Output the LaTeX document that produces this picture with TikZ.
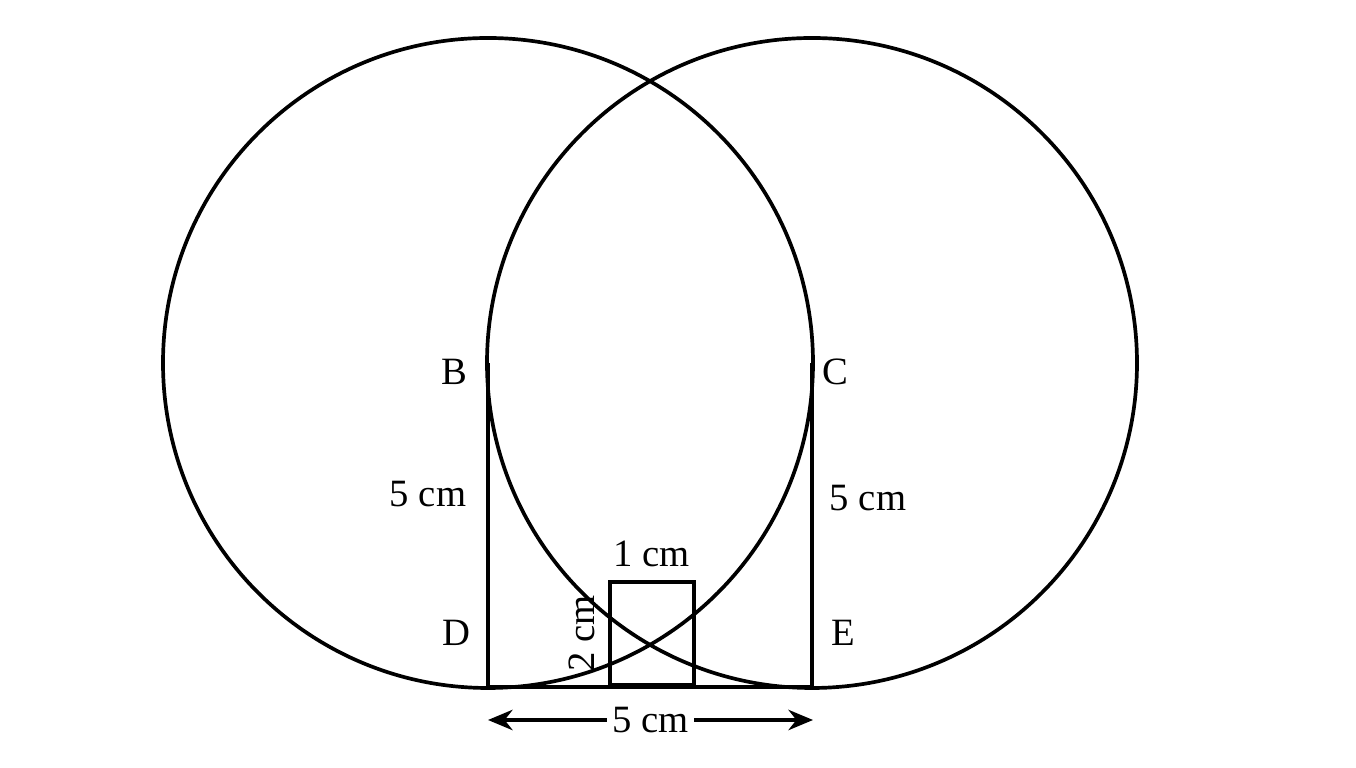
\documentclass[tikz,border=0pt]{standalone}
\usepackage{fontspec}
\setmainfont{Liberation Serif}
\usetikzlibrary{arrows.meta}
\newcommand{\circR}{3.25}
\newcommand{\topY}{4.05}
\newcommand{\baseY}{0.81}
\newcommand{\dimY}{0.48}

\begin{document}
\begin{tikzpicture}[line width=1.05pt, font=\fontsize{11}{13}\selectfont]
        \useasboundingbox (0,0) rectangle (13.56,7.68);

        % Corners of the square
        \coordinate (B) at (4.88,\topY);
        \coordinate (C) at (8.12,\topY);
        \coordinate (D) at (4.88,\baseY);
        \coordinate (E) at (8.12,\baseY);

        % The two circles, one round B and one round C
        \draw (B) circle (\circR);
        \draw (C) circle (\circR);

        % Sides of the square
        \draw (B) -- (D);
        \draw (C) -- (E);
        \draw (D) -- (E);

        % Small rectangle on the base
        \node[draw, anchor=south west, inner sep=0pt, minimum width=0.84cm, minimum height=1.03cm] (box) at (6.08,\baseY) {};
        \node[above] (boxW) at (box.north) {1 cm};
        \node[rotate=90, anchor=south] (boxH) at (box.west) {2 cm};

        % Corner labels
        \node (labB) at (4.54,3.96) {B};
        \node (labC) at (8.35,3.96) {C};
        \node (labD) at (4.56,1.35) {D};
        \node (labE) at (8.43,1.35) {E};

        % Side lengths
        \node (sideL) at (4.28,2.74) {5 cm};
        \node (sideR) at (8.68,2.70) {5 cm};

        % Dimension arrow under the base
        \coordinate (dimL) at (4.88,\dimY);
        \coordinate (dimR) at (8.13,\dimY);
        \draw[{Stealth[length=7pt,width=5.8pt]}-{Stealth[length=7pt,width=5.8pt]}] (dimL) -- node[fill=white, inner sep=1.5pt] (dimT) {5 cm} (dimR);
    \end{tikzpicture}
\end{document}
